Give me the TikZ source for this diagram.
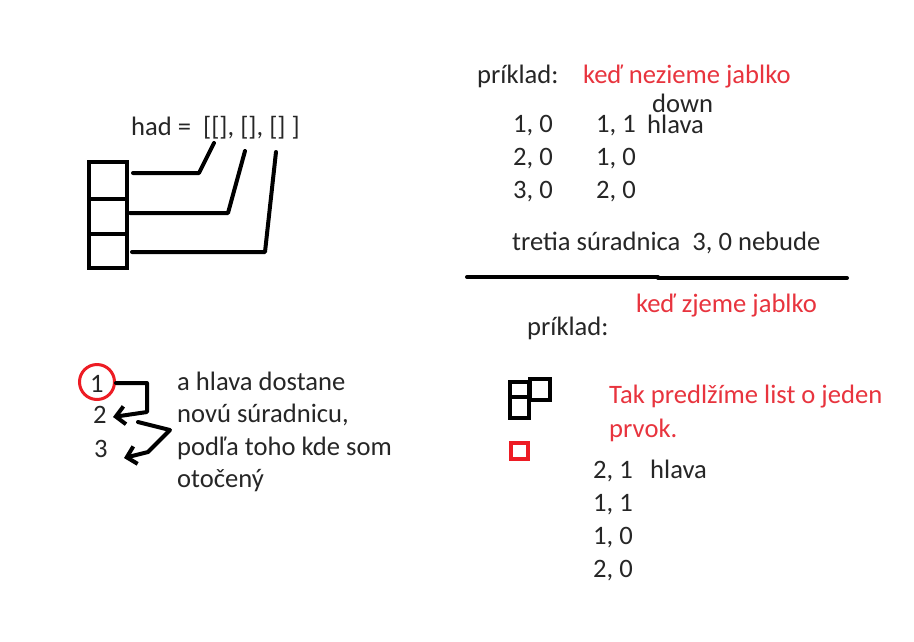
\documentclass[tikz,border=0pt]{standalone}
\usepackage{fontspec}
\setmainfont{Carlito}
\usetikzlibrary{arrows.meta}
\definecolor{ink}{RGB}{38,38,38}
\definecolor{pred}{RGB}{237,28,36}
\definecolor{tred}{RGB}{232,52,62}
\begin{document}
\begin{tikzpicture}[x=1pt,y=-1pt,
  txt/.style={anchor=base west,inner sep=0pt,text=ink,font=\fontsize{26.6}{32}\selectfont},
  rtxt/.style={txt,text=tred},
  cell/.style={draw=black,line width=4pt,inner sep=0pt,minimum width=#1,minimum height=#1},
  wire/.style={draw=black,line width=4pt,line cap=round,line join=round},
  arr/.style={wire,-{Straight Barb[length=9pt,width=18pt,line width=4pt]}}
]
\useasboundingbox[fill=white] (0,0) rectangle (914,641);

% ---- left top: had list ----
\node[txt] (had) at (131,135) {had =\ \ [[], [], [] ]};
\node[cell=0pt,minimum width=38pt,minimum height=37pt,anchor=north west] (b1) at (87,160) {};
\node[cell=0pt,minimum width=38pt,minimum height=35pt,anchor=north west] (b2) at (87,197) {};
\node[cell=0pt,minimum width=38pt,minimum height=34pt,anchor=north west] (b3) at (87,232) {};
\coordinate (e1) at (214,143);
\coordinate (e2) at (245,151);
\coordinate (e3) at (276,152);
\draw[wire] (133,173) -- (199,173) -- (e1);
\draw[wire] (130,213) -- (228,213) -- (e2);
\draw[wire] (132,252) -- (265,252) -- (e3);

% ---- left bottom: numbers ----
\node[txt] (n1) at (90,392) {1};
\node[txt] (n2) at (93,423) {2};
\node[txt] (n3) at (94,457) {3};
\draw[pred,line width=3pt] (97,382) circle (17.5pt);
\draw[arr] (116,383) -- (147,383) -- (147,412) -- (113,417);
\draw[arr] (138,422) -- (170,430) -- (148,452) -- (124,458);
\node[txt] (t1) at (177,390) {a hlava dostane};
\node[txt] (t2) at (177,422) {novú súradnicu,};
\node[txt] (t3) at (177,455) {podľa toho kde som};
\node[txt] (t4) at (177,487) {otočený};

% ---- right top ----
\node[txt] (p1) at (477,83) {príklad:};
\node[rtxt] (k1) at (583,83) {keď nezieme jablko};
\node[txt] (down) at (652,112) {down};
\node[txt] (a1) at (513,132) {1, 0};
\node[txt] (a2) at (513,165) {2, 0};
\node[txt] (a3) at (513,198) {3, 0};
\node[txt] (c1) at (596,132) {1, 1};
\node[txt] (c2) at (596,165) {1, 0};
\node[txt] (c3) at (596,198) {2, 0};
\node[txt] (h1) at (647,133) {hlava};
\node[txt] (tr) at (512,250) {tretia súradnica\ \ 3, 0 nebude};
\draw[black,line width=4pt,line cap=round] (467,277) -- (658,277);
\draw[black,line width=4pt,line cap=round] (658,278) -- (847,278);

% ---- right bottom ----
\node[rtxt] (k2) at (636,312) {keď zjeme jablko};
\node[txt] (p2) at (527,335) {príklad:};
\node[cell=0pt,minimum width=19pt,minimum height=15pt,anchor=north west] (s1) at (508,380) {};
\node[cell=0pt,minimum width=20pt,minimum height=21pt,anchor=north west] (s2) at (528,377) {};
\node[cell=0pt,minimum width=19pt,minimum height=21pt,anchor=north west] (s3) at (508,395) {};
\node[cell=0pt,draw=pred,minimum width=17pt,minimum height=16pt,anchor=north west] (s4) at (509,441) {};
\node[rtxt] (tk1) at (609,403) {Tak predlžíme list o jeden};
\node[rtxt] (tk2) at (609,437) {prvok.};
\node[txt] (d1) at (593,478) {2, 1};
\node[txt] (d2) at (593,511) {1, 1};
\node[txt] (d3) at (593,544) {1, 0};
\node[txt] (d4) at (593,577) {2, 0};
\node[txt] (h2) at (650,478) {hlava};
\end{tikzpicture}
\end{document}
